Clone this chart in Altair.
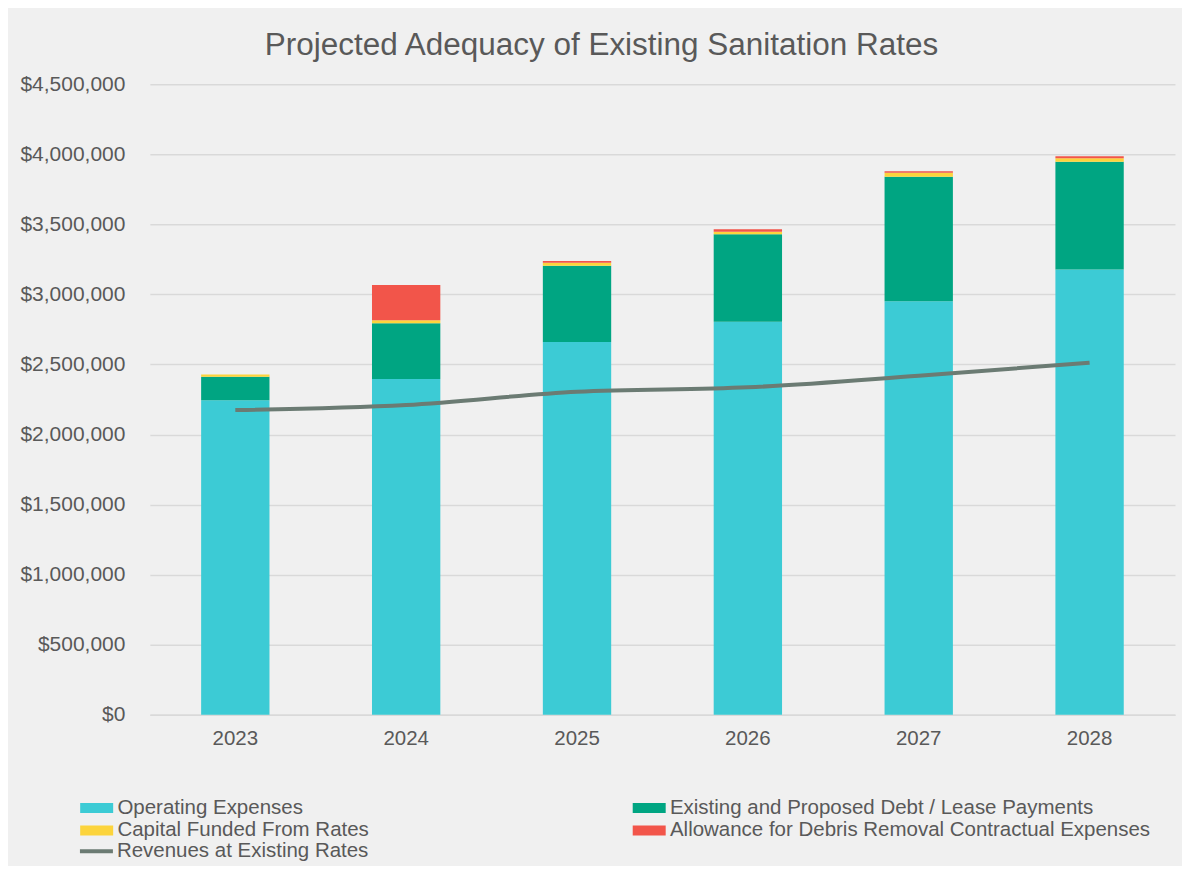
import altair as alt
import pandas as pd

years = ["2023", "2024", "2025", "2026", "2027", "2028"]
operating = [2245000, 2397000, 2660000, 2805000, 2951000, 3179000]
debt = [168000, 397000, 545000, 624000, 889000, 768000]
capital = [16000, 21000, 21000, 19000, 28000, 26000]
debris = [0, 252000, 12000, 17000, 12000, 14000]
revenue = [2175000, 2211000, 2306000, 2337000, 2420000, 2513000]

series_names = [
    "Operating Expenses",
    "Existing and Proposed Debt / Lease Payments",
    "Capital Funded From Rates",
    "Allowance for Debris Removal Contractual Expenses",
]
series_colors = ["#3ccbd5", "#00a582", "#fcd43c", "#f2554a"]
# legend fills column by column: col 1 = Operating, Capital; col 2 = Debt, Debris
legend_order = [0, 2, 1, 3]
line_name = "Revenues at Existing Rates"
line_color = "#6b7b73"

rows = []
for i, y in enumerate(years):
    for k, (name, vals) in enumerate(zip(series_names, [operating, debt, capital, debris])):
        rows.append({"year": y, "series": name, "value": vals[i], "idx": k})
bars_df = pd.DataFrame(rows)
line_df = pd.DataFrame({"year": years, "value": revenue, "series": line_name})

rect_path = "M-1.65,-0.5H1.65V0.5H-1.65Z"
text_color = "#595959"

x_enc = alt.X(
    "year:N",
    title=None,
    scale=alt.Scale(paddingInner=0.6, paddingOuter=0.3),
    axis=alt.Axis(labelAngle=0, labelFontSize=20.5, labelColor=text_color,
                  labelPadding=14, ticks=False, tickSize=0,
                  domainColor="#d9d9d9", domainWidth=1.5, grid=False),
)
y_enc = alt.Y(
    "value:Q",
    title=None,
    stack="zero",
    scale=alt.Scale(domain=[0, 4500000], nice=False),
    axis=alt.Axis(values=[0, 500000, 1000000, 1500000, 2000000, 2500000,
                          3000000, 3500000, 4000000, 4500000],
                  format="$,.0f", labelFontSize=21, labelColor=text_color,
                  labelPadding=25, ticks=False, domain=False,
                  gridColor="#d9d9d9", gridWidth=1.5),
)

bars = alt.Chart(bars_df).mark_bar().encode(
    x=x_enc,
    y=y_enc,
    color=alt.Color(
        "series:N",
        scale=alt.Scale(domain=[series_names[j] for j in legend_order],
                        range=[series_colors[j] for j in legend_order]),
        legend=alt.Legend(
            title=None, orient="none", legendX=-63.5, legendY=714,
            columns=2, columnPadding=263, rowPadding=1.5,
            symbolType=rect_path, symbolSize=400, symbolStrokeWidth=0,
            labelFontSize=20.5, labelColor=text_color, labelOffset=10.5,
            labelLimit=600, padding=0,
        ),
    ),
    order=alt.Order("idx:Q", sort="ascending"),
)

line = alt.Chart(line_df).mark_line(strokeWidth=4, interpolate="monotone").encode(
    x=alt.X("year:N"),
    y=alt.Y("value:Q"),
    stroke=alt.Stroke(
        "series:N",
        scale=alt.Scale(domain=[line_name], range=[line_color]),
        legend=alt.Legend(
            title=None, orient="none", legendX=-72, legendY=749,
            symbolType="stroke", symbolSize=1089, symbolStrokeWidth=4,
            labelFontSize=20.5, labelColor=text_color, labelOffset=2,
            labelLimit=600, padding=0,
        ),
    ),
)

chart = (
    alt.layer(bars, line)
    .properties(
        width=1026,
        height=631,
        title=alt.TitleParams(
            "Projected Adequacy of Existing Sanitation Rates",
            fontSize=31.5, fontWeight="normal", color=text_color,
            font="Liberation Sans", anchor="middle", frame="group",
            dx=-61, offset=12,
        ),
        autosize=alt.AutoSizeParams(type="none"),
        padding={"left": 142, "top": 76, "right": 7, "bottom": 151},
        background="#f0f0f0",
    )
    .configure(font="Liberation Sans")
    .configure_view(stroke=None)
)

chart.save("out.html", embed_options={"renderer": "svg", "actions": False})
